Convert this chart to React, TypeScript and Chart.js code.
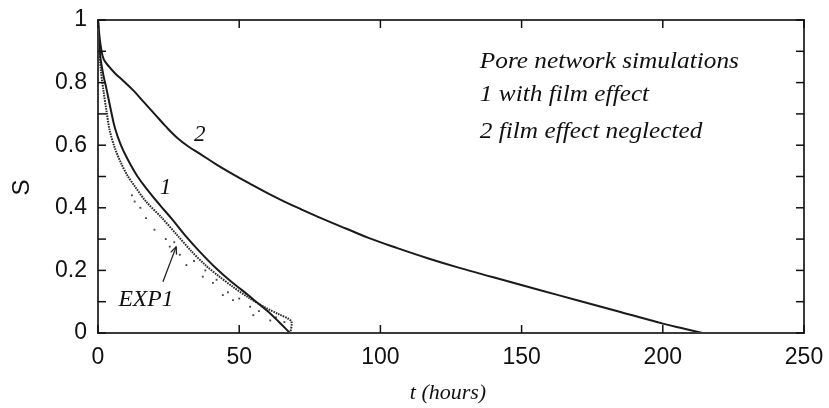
import { useEffect, useRef } from 'react';
import { Chart, registerables } from 'chart.js';

Chart.register(...registerables);

// Curve 2: pore network simulation, film effect neglected
const filmNeglectedT = [0, 0.5, 1, 2, 4, 6, 9, 12.5, 16, 20, 24, 28, 32, 36, 42, 48, 54, 60, 66, 72, 80, 88, 96, 106, 117, 128, 140, 156, 170, 185, 200, 208, 214];
const filmNeglectedS = [1, 0.95, 0.915, 0.875, 0.85, 0.83, 0.805, 0.775, 0.74, 0.7, 0.66, 0.624, 0.596, 0.573, 0.538, 0.506, 0.476, 0.447, 0.42, 0.395, 0.363, 0.333, 0.303, 0.271, 0.238, 0.208, 0.178, 0.138, 0.104, 0.067, 0.03, 0.013, 0];

// Curve 1: pore network simulation, with film effect
const withFilmT = [0, 0.5, 1, 2, 3, 4.5, 6, 8, 10.5, 14, 18, 22, 26, 31, 36, 42, 47, 51, 55, 60, 64, 68];
const withFilmS = [1, 0.92, 0.87, 0.82, 0.78, 0.715, 0.655, 0.603, 0.555, 0.5, 0.452, 0.408, 0.366, 0.31, 0.26, 0.205, 0.165, 0.137, 0.107, 0.07, 0.036, 0];

// EXP1: experimental drying curve (dense line of points)
const exp1LineT = [0, 0.5, 1, 2, 3, 4.1, 6, 8.3, 10.5, 13.1, 17, 22.4, 28.3, 33, 38, 43, 47.7, 53, 59.5, 64, 68.4, 68.2];
const exp1LineS = [1, 0.9, 0.84, 0.77, 0.71, 0.649, 0.59, 0.54, 0.502, 0.468, 0.42, 0.37, 0.31, 0.262, 0.217, 0.18, 0.148, 0.115, 0.08, 0.06, 0.038, 0.003];

// EXP1: scattered experimental points
const exp1ScatterT = [12, 13, 15, 17, 20, 24, 25.4, 27, 29, 31.3, 34, 37.1, 38, 40.7, 42, 44.2, 46, 47.8, 50, 53.9, 55, 57, 61, 63, 66];
const exp1ScatterS = [0.44, 0.42, 0.4, 0.367, 0.33, 0.3, 0.276, 0.29, 0.25, 0.217, 0.23, 0.18, 0.2, 0.16, 0.17, 0.121, 0.13, 0.105, 0.11, 0.084, 0.057, 0.07, 0.04, 0.05, 0.035];

const xTickLabels = ['0', '50', '100', '150', '200', '250'];
const yTickLabels = ['0', '0.2', '0.4', '0.6', '0.8', '1'];
const noteLines = ['Pore network simulations', '1 with film effect', '2 film effect neglected'];
const xTitle = 't (hours)';
const yTitle = 'S';
const curveLabels = ['1', '2'];
const expLabel = 'EXP1';

const pts = (t: number[], s: number[]) => t.map((v, i) => ({ x: v, y: s[i] }));

function drawText(ctx: CanvasRenderingContext2D, s: string, x: number, y: number, sx = 1) {
  ctx.save();
  ctx.translate(x, y);
  ctx.scale(sx, 1);
  ctx.fillText(s, 0, 0);
  ctx.restore();
}

const framePlugin = {
  id: 'framePlugin',
  afterDraw(chart: any) {
    const { ctx, chartArea: a, scales } = chart;
    const x = scales.x;
    const y = scales.y;
    const X = (v: number) => x.getPixelForValue(v);
    const Y = (v: number) => y.getPixelForValue(v);
    ctx.save();

    // frame
    ctx.strokeStyle = '#3a3a3a';
    ctx.lineWidth = 2;
    ctx.strokeRect(a.left, a.top, a.right - a.left, a.bottom - a.top);

    // tick marks
    ctx.strokeStyle = '#111';
    ctx.lineWidth = 1.5;
    const seg = (x1: number, y1: number, x2: number, y2: number) => {
      ctx.beginPath();
      ctx.moveTo(x1, y1);
      ctx.lineTo(x2, y2);
      ctx.stroke();
    };
    y.ticks.forEach((t: any) => {
      const py = Y(t.value);
      seg(a.left, py, a.left + 8, py);
      seg(a.right, py, a.right - 8, py);
    });
    x.ticks.forEach((t: any) => {
      const px = X(t.value);
      seg(px, a.bottom, px, a.bottom - 8);
      seg(px, a.top, px, a.top + 8);
    });

    // tick labels
    ctx.fillStyle = '#111';
    ctx.font = '23px "Liberation Sans", Arial, sans-serif';
    ctx.textBaseline = 'middle';
    ctx.textAlign = 'right';
    y.ticks.forEach((t: any) => {
      const k = t.value * 5;
      const r = Math.round(k);
      if (Math.abs(k - r) < 1e-6 && yTickLabels[r] !== undefined) {
        ctx.fillText(yTickLabels[r], a.left - 11, Y(t.value));
      }
    });
    ctx.textAlign = 'center';
    x.ticks.forEach((t: any) => {
      const r = Math.round(t.value / 50);
      if (xTickLabels[r] !== undefined) ctx.fillText(xTickLabels[r], X(t.value), a.bottom + 25);
    });

    // axis titles
    ctx.font = 'italic 22px "Liberation Serif", serif';
    ctx.textAlign = 'center';
    ctx.fillText(xTitle, (a.left + a.right) / 2 - 3, a.bottom + 60);
    ctx.save();
    ctx.translate(22, (a.top + a.bottom) / 2 + 11);
    ctx.rotate(-Math.PI / 2);
    ctx.font = '24px "Liberation Sans", Arial, sans-serif';
    ctx.fillText(yTitle, 0, 0);
    ctx.restore();

    // annotation block
    ctx.font = 'italic 23px "Liberation Serif", serif';
    ctx.textAlign = 'left';
    const noteS = [0.867, 0.76, 0.643];
    noteLines.forEach((s, i) => drawText(ctx, s, X(135.2), Y(noteS[i]), 1.1));

    // curve labels
    ctx.textAlign = 'center';
    drawText(ctx, curveLabels[0], X(23.9), Y(0.465), 1);
    drawText(ctx, curveLabels[1], X(36), Y(0.633), 1);
    drawText(ctx, expLabel, X(17), Y(0.105), 1.03);

    // arrow EXP1
    const ax1 = X(23), ay1 = Y(0.164), ax2 = X(27.7), ay2 = Y(0.276);
    ctx.strokeStyle = '#222';
    ctx.lineWidth = 1.3;
    seg(ax1, ay1, ax2, ay2);
    const ang = Math.atan2(ay2 - ay1, ax2 - ax1);
    const L = 8;
    seg(ax2, ay2, ax2 - L * Math.cos(ang - 0.4), ay2 - L * Math.sin(ang - 0.4));
    seg(ax2, ay2, ax2 - L * Math.cos(ang + 0.4), ay2 - L * Math.sin(ang + 0.4));

    ctx.restore();
  },
};

export default function App() {
  const ref = useRef<HTMLCanvasElement>(null);
  useEffect(() => {
    if (!ref.current) return;
    const chart = new Chart(ref.current, {
      type: 'line',
      data: {
        datasets: [
          {
            data: pts(filmNeglectedT, filmNeglectedS),
            borderColor: '#1a1a1a',
            borderWidth: 2,
            pointRadius: 0,
            tension: 0.4,
          },
          {
            data: pts(withFilmT, withFilmS),
            borderColor: '#1a1a1a',
            borderWidth: 2,
            pointRadius: 0,
            tension: 0.4,
          },
          {
            data: pts(exp1LineT, exp1LineS),
            borderColor: '#2a2a2a',
            borderWidth: 2,
            borderDash: [1.6, 1],
            pointRadius: 0,
            tension: 0.3,
          },
          {
            data: pts(exp1ScatterT, exp1ScatterS),
            showLine: false,
            pointRadius: 1.3,
            pointStyle: 'rect',
            pointBackgroundColor: '#444',
            pointBorderWidth: 0,
          },
        ],
      } as any,
      options: {
        animation: false,
        responsive: false,
        devicePixelRatio: 1,
        layout: { padding: { left: 98, right: 25, top: 20, bottom: 75 } },
        plugins: { legend: { display: false }, tooltip: { enabled: false } },
        scales: {
          x: {
            type: 'linear',
            min: 0,
            max: 250,
            ticks: { stepSize: 50, display: false },
            grid: { display: false, drawTicks: false },
            border: { display: false },
          },
          y: {
            type: 'linear',
            min: 0,
            max: 1,
            ticks: { stepSize: 0.1, display: false },
            grid: { display: false, drawTicks: false },
            border: { display: false },
          },
        },
      } as any,
      plugins: [framePlugin],
    });
    return () => chart.destroy();
  }, []);
  return (
    <div style={{ position: 'absolute', left: 0, top: 0, width: 829, height: 408, background: '#fff' }}>
      <canvas ref={ref} width={829} height={408} />
    </div>
  );
}
